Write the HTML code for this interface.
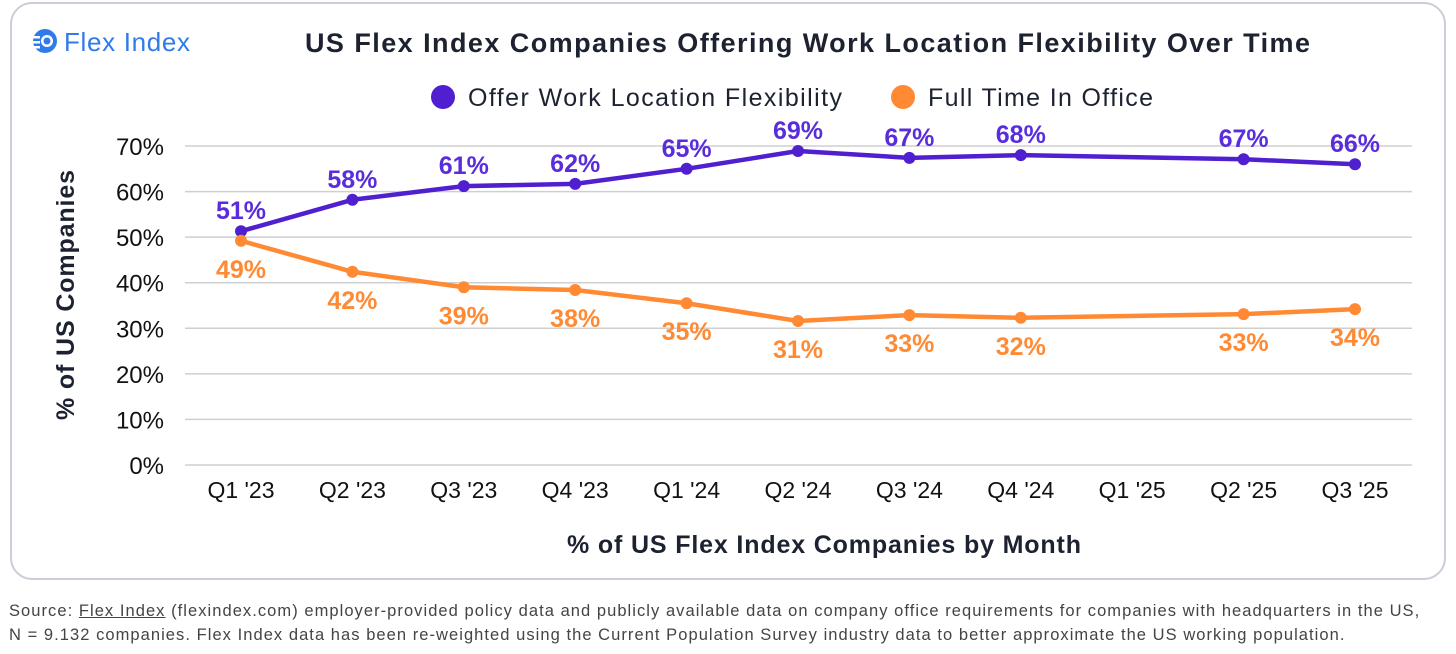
<!DOCTYPE html>
<html><head><meta charset="utf-8"><style>
body{margin:0;width:1456px;height:654px;background:#fff;font-family:"Liberation Sans",sans-serif;overflow:hidden;position:relative}
.card{position:absolute;left:10px;top:2px;width:1432px;height:574px;border:2px solid #c9ced8;border-radius:22px;background:#fff}
.src{position:absolute;left:9px;top:599px;font-size:16.5px;letter-spacing:1.05px;line-height:24px;color:#444;white-space:nowrap}
</style></head><body>
<div class="card"></div>
<svg width="1456" height="654" style="position:absolute;left:0;top:0" id="chart">
<g>
<circle cx="45" cy="41" r="12" fill="#2f7be9"/><circle cx="47" cy="41" r="6" fill="#fff"/><circle cx="47" cy="41" r="3.5" fill="#2f7be9"/>
<rect x="28" y="36" width="12" height="2.5" fill="#fff"/><rect x="28" y="41" width="12" height="2.5" fill="#fff"/><rect x="28" y="46" width="12" height="2.5" fill="#fff"/>
<text x="64" y="51" font-size="26" fill="#2f7be9" textLength="126">Flex Index</text>
</g>
<text x="305" y="52" font-size="27" font-weight="bold" fill="#1c2230" textLength="1005">US Flex Index Companies Offering Work Location Flexibility Over Time</text>
<g>
<circle cx="443" cy="97" r="12" fill="#4f1fd0"/>
<text x="468" y="106" font-size="25" fill="#1c2230" textLength="374">Offer Work Location Flexibility</text>
<circle cx="903" cy="97" r="12" fill="#ff8a33"/>
<text x="928" y="106" font-size="25" fill="#1c2230" textLength="225">Full Time In Office</text>
</g>
<text transform="translate(74,295) rotate(-90)" font-size="25" font-weight="bold" fill="#1c2230" text-anchor="middle" textLength="250">% of US Companies</text>
<text x="567" y="553" font-size="25" font-weight="bold" fill="#1c2230" textLength="514">% of US Flex Index Companies by Month</text>
<g id="grid"></g><g id="marks"></g>
</svg>
<div class="src">Source: <u>Flex Index</u> (flexindex.com) employer-provided policy data and publicly available data on company office requirements for companies with headquarters in the US,<br>N = 9.132 companies. Flex Index data has been re-weighted using the Current Population Survey industry data to better approximate the US working population.</div>
<script>
const categories=["Q1 '23","Q2 '23","Q3 '23","Q4 '23","Q1 '24","Q2 '24","Q3 '24","Q4 '24","Q1 '25","Q2 '25","Q3 '25"];
const flexValues=[51.3,58.2,61.2,61.7,65,68.9,67.4,68,null,67.1,66];
const flexLabels=["51%","58%","61%","62%","65%","69%","67%","68%","","67%","66%"];
const officeValues=[49.2,42.4,39,38.4,35.5,31.6,32.9,32.3,null,33.1,34.2];
const officeLabels=["49%","42%","39%","38%","35%","31%","33%","32%","","33%","34%"];
const yTicks=[0,10,20,30,40,50,60,70];
const NS="http://www.w3.org/2000/svg";
const x=i=>241+i*111.4, y=v=>465-v*4.557;
function mk(tag,attrs,parent,txt){const e=document.createElementNS(NS,tag);for(const k in attrs)e.setAttribute(k,attrs[k]);if(txt!=null)e.textContent=txt;parent.appendChild(e);return e;}
const grid=document.getElementById('grid'),marks=document.getElementById('marks');
yTicks.forEach(t=>{
 const l=mk('line',{x1:185,x2:1412,y1:y(t),y2:y(t),stroke:'#cfcfcf','stroke-width':1.5},grid);
 
 
 const tx=mk('text',{x:164,y:y(t)+9,'font-size':24,'text-anchor':'end',fill:'#111'},grid,t+'%');
 
 
});
categories.forEach((c,i)=>{
 const tx=mk('text',{x:x(i),y:498,'font-size':23,'text-anchor':'middle',fill:'#111'},grid,c);
 
 
});
function series(vals,labs,color,lineColor,name,dy){
 const pts=vals.map((v,i)=>v==null?null:[x(i),y(v)]).filter(p=>p);
 const pl=mk('polyline',{points:pts.map(p=>p.join(',')).join(' '),fill:'none',stroke:lineColor,'stroke-width':4.5,'stroke-linejoin':'round'},marks);
 
 
 vals.forEach((v,i)=>{ if(v==null)return;
  const c=mk('circle',{cx:x(i),cy:y(v),r:6,fill:lineColor},marks);
  
  
  const t=mk('text',{x:x(i),y:y(v)+dy,'font-size':25,'font-weight':'bold','text-anchor':'middle',fill:color},marks,labs[i]);
  
  
 });
}
series(flexValues,flexLabels,'#5a2ddc','#4f1fd0','flex',-12);
series(officeValues,officeLabels,'#ff8a33','#ff8a33','office',37);
</script>
</body></html>
